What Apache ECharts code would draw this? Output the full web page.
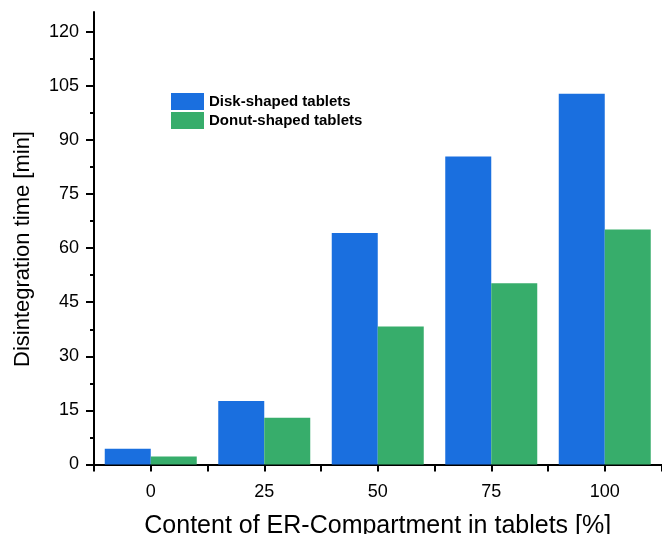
<!DOCTYPE html>
<html>
<head>
<meta charset="utf-8">
<script src="https://cdn.jsdelivr.net/npm/echarts@6/dist/echarts.min.js"></script>
<style>
  html, body { margin: 0; padding: 0; background: #fff; }
  #chart { width: 662px; height: 534px; }
</style>
</head>
<body>
<div id="chart"></div>
<script>
// ER-compartment content in tablets [%]
const categories = ['0', '25', '50', '75', '100'];
// Disintegration time [min]
const diskTimes = [4.4, 17.6, 64.2, 85.4, 102.8];
const donutTimes = [2.2, 13.0, 38.3, 50.3, 65.2];
// y-axis labelled ticks and the unlabelled ticks between them
const yMajorTicks = [0, 15, 30, 45, 60, 75, 90, 105, 120];
const yMinorTicks = [7.5, 22.5, 37.5, 52.5, 67.5, 82.5, 97.5, 112.5];

const FONT = 'Arial, "Liberation Sans", sans-serif';
const BLUE = '#1a6fdf';
const GREEN = '#37ad6b';
const Y_MAX = 125.5;

const chart = echarts.init(document.getElementById('chart'), null, { renderer: 'canvas' });

chart.setOption({
  animation: false,
  backgroundColor: '#fff',
  textStyle: { fontFamily: FONT },
  grid: { left: 94, right: 0.5, top: 12, bottom: 69.5, containLabel: false, outerBoundsMode: 'none' },
  legend: {
    orient: 'vertical',
    left: 171,
    top: 93,
    padding: 0,
    itemWidth: 33,
    itemHeight: 17,
    itemGap: 2,
    icon: 'rect',
    textStyle: { fontFamily: FONT, fontSize: 15, fontWeight: 'bold', color: '#000' },
    data: ['Disk-shaped tablets', 'Donut-shaped tablets']
  },
  xAxis: [
    {
      type: 'category',
      data: categories,
      position: 'bottom',
      axisLine: { lineStyle: { color: '#000', width: 2 } },
      axisTick: { show: true, alignWithLabel: true, inside: false, length: 7, lineStyle: { color: '#000', width: 2 } },
      axisLabel: { color: '#000', fontSize: 18, fontFamily: FONT, margin: 19 },
      name: 'Content of ER-Compartment in tablets [%]',
      nameLocation: 'middle',
      nameGap: 49,
      nameTextStyle: { color: '#000', fontSize: 25, fontFamily: FONT }
    },
    {
      // boundary ticks between categories
      type: 'category',
      data: categories,
      position: 'bottom',
      axisLine: { show: false },
      axisTick: { show: true, alignWithLabel: false, length: 7, lineStyle: { color: '#000', width: 2 } },
      axisLabel: { show: false }
    }
  ],
  yAxis: [
    {
      type: 'value',
      min: 0,
      max: Y_MAX,
      interval: 15,
      position: 'left',
      splitLine: { show: false },
      axisLine: { show: true, lineStyle: { color: '#000', width: 2 } },
      axisTick: { show: true, length: 8, customValues: yMajorTicks, lineStyle: { color: '#000', width: 2 } },
      axisLabel: { color: '#000', fontSize: 18, fontFamily: FONT, margin: 15, customValues: yMajorTicks }
    },
    {
      type: 'value',
      min: 0,
      max: Y_MAX,
      interval: 15,
      position: 'left',
      splitLine: { show: false },
      axisLine: { show: false },
      axisTick: { show: true, length: 4, customValues: yMinorTicks, lineStyle: { color: '#000', width: 2 } },
      axisLabel: { show: false }
    }
  ],
  series: [
    {
      name: 'Disk-shaped tablets',
      type: 'bar',
      data: diskTimes,
      barWidth: 46,
      barGap: '0%',
      itemStyle: { color: BLUE }
    },
    {
      name: 'Donut-shaped tablets',
      type: 'bar',
      data: donutTimes,
      barWidth: 46,
      barGap: '0%',
      itemStyle: { color: GREEN }
    }
  ],
  graphic: [
    {
      type: 'text',
      x: 23,
      y: 249,
      rotation: Math.PI / 2,
      style: {
        text: 'Disintegration time [min]',
        fontFamily: FONT,
        fontSize: 22,
        fill: '#000',
        textAlign: 'center',
        textVerticalAlign: 'middle'
      }
    }
  ]
});
</script>
</body>
</html>
